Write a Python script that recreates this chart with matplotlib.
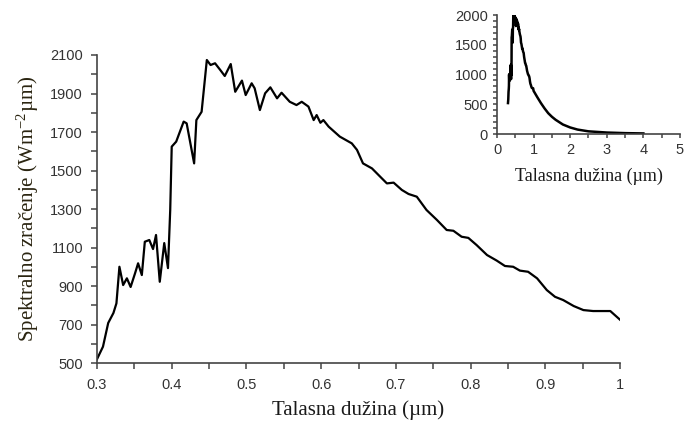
import matplotlib.pyplot as plt
from matplotlib.ticker import MultipleLocator

# spectral irradiance, 0.3 - 1.0 um
wavelength = [0.300, 0.308, 0.315, 0.322, 0.326, 0.330, 0.335, 0.340, 0.345, 0.351,
              0.355, 0.360, 0.364, 0.370, 0.375, 0.379, 0.384, 0.390, 0.395, 0.398,
              0.400, 0.406, 0.416, 0.420, 0.430, 0.433, 0.440, 0.447, 0.452, 0.458,
              0.465, 0.471, 0.479, 0.485, 0.494, 0.499, 0.507, 0.511, 0.518, 0.525,
              0.532, 0.541, 0.547, 0.558, 0.567, 0.574, 0.583, 0.590, 0.594, 0.599,
              0.603, 0.610, 0.625, 0.641, 0.648, 0.656, 0.668, 0.679, 0.688, 0.697,
              0.708, 0.717, 0.728, 0.741, 0.755, 0.768, 0.777, 0.788, 0.797, 0.808,
              0.822, 0.835, 0.846, 0.857, 0.866, 0.877, 0.889, 0.902, 0.913, 0.924,
              0.938, 0.951, 0.964, 0.987, 1.000]
irradiance = [520, 585, 708, 760, 810, 1000, 905, 940, 895, 967,
              1018, 957, 1130, 1139, 1092, 1165, 922, 1123, 993, 1295,
              1624, 1650, 1754, 1745, 1537, 1762, 1805, 2074, 2048, 2057,
              2022, 1991, 2053, 1909, 1967, 1892, 1953, 1927, 1814, 1901,
              1932, 1875, 1904, 1857, 1840, 1857, 1832, 1762, 1788, 1748,
              1762, 1728, 1676, 1641, 1607, 1537, 1511, 1468, 1433, 1437,
              1399, 1378, 1364, 1295, 1243, 1191, 1187, 1156, 1150, 1113,
              1061, 1032, 1004, 1000, 980, 974, 940, 879, 844, 827,
              796, 775, 770, 770, 725]

# infrared tail shown only in the inset
tail_wavelength = [1.1, 1.2, 1.3, 1.4, 1.5, 1.6, 1.8, 2.0, 2.2, 2.5, 3.0, 3.5, 4.0]
tail_irradiance = [620, 520, 430, 350, 290, 240, 160, 110, 75, 45, 25, 15, 10]

y_ticks = [500, 700, 900, 1100, 1300, 1500, 1700, 1900, 2100]

serif = ['Liberation Serif', 'DejaVu Serif']
sans = ['Liberation Sans', 'DejaVu Sans']
plt.rcParams['mathtext.fontset'] = 'stix'

fig = plt.figure(figsize=(6.86, 4.29), dpi=100)

ax = fig.add_axes([0.1414, 0.1538, 0.7624, 0.718])
ax.plot(wavelength, irradiance, color='black', lw=1.6)
ax.set_xlim(0.3, 1.0)
ax.set_ylim(500, 2100)
ax.xaxis.set_major_locator(MultipleLocator(0.1))
ax.xaxis.set_minor_locator(MultipleLocator(0.05))
ax.set_yticks(y_ticks)
ax.yaxis.set_minor_locator(MultipleLocator(100))
ax.xaxis.set_major_formatter(lambda v, p: f'{v:g}')
for s in ['top', 'right']:
    ax.spines[s].set_visible(False)
for s in ['left', 'bottom']:
    ax.spines[s].set_color('#444444')
    ax.spines[s].set_linewidth(1.2)
ax.tick_params(which='both', direction='out', color='#444444', width=1.1,
               labelsize=10.5, labelcolor='#333333', length=4)
ax.tick_params(axis='x', pad=7)
ax.tick_params(axis='y', pad=6)
for lab in ax.get_xticklabels() + ax.get_yticklabels():
    lab.set_family(sans)
ax.set_xlabel('Talasna dužina (µm)', family=serif, fontsize=15, color='#1a1a1a', labelpad=6)
ax.set_ylabel(r'Spektralno zračenje (Wm$^{\mathregular{-2}}$µm)', family=serif,
              fontsize=15, color='#2a2410', labelpad=7)

# inset with the full spectrum
axi = fig.add_axes([0.7245, 0.6876, 0.2667, 0.2774])
axi.plot(wavelength + tail_wavelength, irradiance + tail_irradiance, color='black', lw=1.8)
axi.set_xlim(0, 5)
axi.set_ylim(0, 2000)
axi.xaxis.set_major_locator(MultipleLocator(1))
axi.xaxis.set_minor_locator(MultipleLocator(0.5))
axi.yaxis.set_major_locator(MultipleLocator(500))
axi.yaxis.set_minor_locator(MultipleLocator(100))
for s in ['top', 'right']:
    axi.spines[s].set_visible(False)
for s in ['left', 'bottom']:
    axi.spines[s].set_color('#444444')
    axi.spines[s].set_linewidth(1.2)
axi.tick_params(which='both', direction='out', color='#444444', width=1.1,
                labelsize=10.5, labelcolor='#333333', length=3)
for lab in axi.get_xticklabels() + axi.get_yticklabels():
    lab.set_family(sans)
axi.set_xlabel('Talasna dužina (µm)', family=serif, fontsize=13, color='#1a1a1a', labelpad=8)

fig.savefig('out.png', dpi=100)
